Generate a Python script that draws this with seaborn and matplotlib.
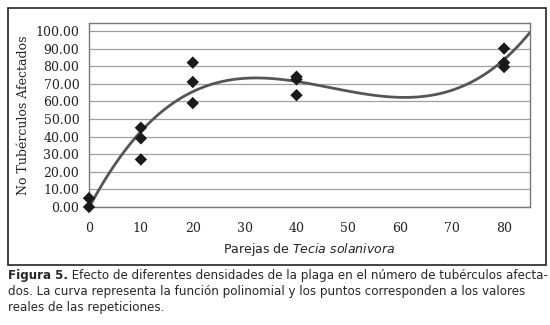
import numpy as np
import pandas as pd
import matplotlib
matplotlib.use('Agg')
import matplotlib.pyplot as plt
import seaborn as sns

## ===================================================================== ##

# parejas de Tecia solanivora (repeticiones)
parejas = [0, 0, 10, 10, 10, 20, 20, 20, 40, 40, 40, 80, 80, 80]
tuberculos = [0.0, 5.0, 45.0, 39.0, 27.0, 82.0, 71.0, 59.0, 74.0, 72.5, 63.5, 90.0, 82.0, 79.5]

x_ticks = [0, 10, 20, 30, 40, 50, 60, 70, 80]
y_ticks = [0, 10, 20, 30, 40, 50, 60, 70, 80, 90, 100]

caption_bold = 'Figura 5.'
caption_lines = [
    ' Efecto de diferentes densidades de la plaga en el número de tubérculos afecta-',
    'dos. La curva representa la función polinomial y los puntos corresponden a los valores',
    'reales de las repeticiones.',
]

## ===================================================================== ##

df = pd.DataFrame({'parejas': parejas, 'tuberculos': tuberculos})

sns.set_style('white')
plt.rcParams['font.family'] = ['DejaVu Serif']

fig = plt.figure(figsize=(5.5, 3.25), dpi=100)
ax = fig.add_axes([89 / 550., 1 - 207 / 325., (530 - 89) / 550., (207 - 23) / 325.])

ax.set_xlim(0, 85)
ax.set_ylim(0, 104.5)

# linea de tendencia polinomial (orden 3)
sns.regplot(data=df, x='parejas', y='tuberculos', order=3, ci=None, truncate=False,
            scatter=False, ax=ax, line_kws={'color': '#555555', 'lw': 2.0, 'zorder': 2})
sns.scatterplot(data=df, x='parejas', y='tuberculos', marker='D', s=40, color='#1a1a1a',
                edgecolor='none', ax=ax, zorder=3, clip_on=False)

ax.set_xlim(0, 85)
ax.set_ylim(0, 104.5)
ax.set_xticks(x_ticks)
ax.set_yticks(y_ticks)
ax.set_yticklabels(['{0:.2f}'.format(v) for v in y_ticks])
ax.yaxis.grid(True, color='#a0a0a0', lw=0.9)
ax.tick_params(axis='both', labelsize=9, colors='#222222', length=4, width=0.8)
ax.tick_params(axis='x', pad=7)
ax.tick_params(axis='y', pad=3)
for side in ['left', 'right', 'top', 'bottom']:
    ax.spines[side].set_color('#777777')
    ax.spines[side].set_linewidth(1.0)

ax.set_ylabel('No Tubérculos Afectados', fontsize=9, color='#222222', labelpad=4)
ax.set_xlabel('Parejas de $\\it{Tecia\\ solanivora}$', fontsize=9, color='#222222',
              family='DejaVu Sans', labelpad=4)

# marco exterior del grafico
rect = plt.Rectangle((8 / 550., 1 - 265 / 325.), 538 / 550., 257 / 325., transform=fig.transFigure,
                     fill=False, edgecolor='#222222', lw=1.2)
fig.patches.append(rect)

# pie de figura
t = fig.text(8 / 550., 1 - 276 / 325., caption_bold, fontsize=8.6, fontweight='bold',
             family='DejaVu Sans', va='center', ha='left')
fig.canvas.draw()
bb = t.get_window_extent()
fig.text(bb.x1 / 550., 1 - 276 / 325., caption_lines[0], fontsize=8.6, family='DejaVu Sans',
         va='center', ha='left')
fig.text(8 / 550., 1 - 292 / 325., caption_lines[1], fontsize=8.6, family='DejaVu Sans',
         va='center', ha='left')
fig.text(8 / 550., 1 - 308 / 325., caption_lines[2], fontsize=8.6, family='DejaVu Sans',
         va='center', ha='left')

fig.savefig('out.png', dpi=100, facecolor='white')
